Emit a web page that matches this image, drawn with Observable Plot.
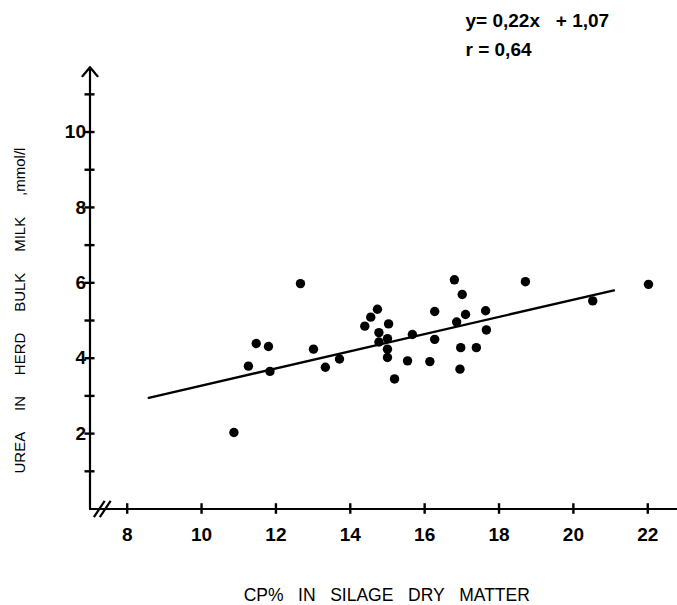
<!DOCTYPE html>
<html><head><meta charset="utf-8">
<script src="https://cdn.jsdelivr.net/npm/d3@7"></script>
<script src="https://cdn.jsdelivr.net/npm/@observablehq/plot@0.6"></script>
<style>
body{margin:0;background:#fff}
#chart svg{display:block;background:#fff}
</style>
</head><body><div id="chart"></div>
<script>
// Crude protein % in silage dry matter (x) vs urea in herd bulk milk, mmol/l (y)
const cpPercent = [10.87, 11.26, 11.47, 11.80, 11.84, 12.66, 13.01, 13.33, 13.71, 14.39,
                   14.55, 14.73, 14.77, 14.77, 15.03, 15.00, 15.00, 15.00, 15.19, 15.67,
                   15.54, 16.27, 16.27, 16.14, 16.80, 17.01, 17.10, 16.86, 17.64, 17.66,
                   16.97, 17.39, 16.95, 18.71, 20.52, 22.02];
const ureaMmol = [2.03, 3.79, 4.39, 4.31, 3.65, 5.98, 4.24, 3.76, 3.98, 4.85,
                  5.09, 5.30, 4.68, 4.43, 4.91, 4.52, 4.24, 4.02, 3.45, 4.63,
                  3.93, 5.24, 4.50, 3.91, 6.08, 5.69, 5.16, 4.96, 5.26, 4.75,
                  4.28, 4.28, 3.71, 6.03, 5.52, 5.96];
// regression line y = 0.22x + 1.07, as drawn
const fitX = [8.58, 21.09];
const fitY = [2.95, 5.80];
const xTicks = [8, 10, 12, 14, 16, 18, 20, 22];
const yTicks = [1, 2, 3, 4, 5, 6, 7, 8, 9, 10, 11];
const yTickLabels = [2, 4, 6, 8, 10];
const xDomain = [7, 22.8];
const yDomain = [0, 11.72];
const breakX = [7.25, 7.41];
const annotationLines = ["y= 0,22x   + 1,07", "r = 0,64"];
const xTitle = "CP% IN SILAGE DRY MATTER";
const yTitle = "UREA IN HERD BULK MILK ,mmol/l";

const points = cpPercent.map((x, i) => ({x, y: ureaMmol[i]}));
const fit = fitX.map((x, i) => ({x, y: fitY[i]}));
const nb = "\u00a0";
const font = "Liberation Sans, Arial, Helvetica, sans-serif";

const plot = Plot.plot({
  width: 677,
  height: 605,
  marginLeft: 89.5,
  marginRight: 0,
  marginTop: 66.7,
  marginBottom: 96.5,
  style: {fontFamily: font, background: "#fff", color: "#000"},
  x: {domain: xDomain, axis: null},
  y: {domain: yDomain, axis: null},
  marks: [
    // x axis line
    Plot.ruleY([0], {x1: xDomain[0], x2: xDomain[1], stroke: "#000", strokeWidth: 2}),
    // y axis with arrow
    Plot.arrow([0], {x1: xDomain[0], x2: xDomain[0], y1: yDomain[0], y2: yDomain[1],
      stroke: "#000", strokeWidth: 2.2, headAngle: 80, headLength: 8}),
    // axis break marks
    Plot.link(breakX, {x1: d => d - 0.145, x2: d => d + 0.145, y1: -0.215, y2: 0.215,
      stroke: "#000", strokeWidth: 2.2}),
    // x ticks (crossing)
    Plot.ruleX(xTicks, {y1: -0.14, y2: 0.14, stroke: "#000", strokeWidth: 2.4}),
    // y ticks (crossing)
    Plot.ruleY(yTicks, {x1: xDomain[0] - 0.135, x2: xDomain[0] + 0.135, stroke: "#000", strokeWidth: 2.4}),
    // x tick labels
    Plot.text(xTicks, {x: d => d, y: 0, dy: 26, text: d => String(d),
      fontSize: 19, fontWeight: "bold", fill: "#000"}),
    // y tick labels
    Plot.text(yTickLabels, {x: xDomain[0], y: d => d, dx: -4, textAnchor: "end", text: d => String(d),
      fontSize: 19, fontWeight: "bold", fill: "#000"}),
    // regression line
    Plot.line(fit, {x: "x", y: "y", stroke: "#000", strokeWidth: 2.4}),
    // data points
    Plot.dot(points, {x: "x", y: "y", r: 4.7, fill: "#000", stroke: "none"}),
    // x title
    Plot.text([xTitle], {frameAnchor: "bottom", text: d => d.split(" ").join(nb.repeat(3)),
      dx: 3, dy: 86, lineAnchor: "middle", fontSize: 17.5, fill: "#000"}),
    // y title
    Plot.text([yTitle], {frameAnchor: "bottom-left", text: d => d.split(" ").join(nb.repeat(5)),
      rotate: -90, textAnchor: "start", lineAnchor: "middle", dx: -69.5, dy: -35.5,
      fontSize: 15, fill: "#000"}),
    // equation annotation
    Plot.text([annotationLines.join("\n")], {frameAnchor: "top-right",
      text: d => d.replace(/ {2,}/g, m => nb.repeat(m.length)),
      textAnchor: "start", lineAnchor: "top", lineHeight: 1.5, dx: -212, dy: -60,
      fontSize: 19, fontWeight: "bold", fill: "#000"})
  ]
});

document.getElementById("chart").appendChild(plot);
</script>
</body></html>
